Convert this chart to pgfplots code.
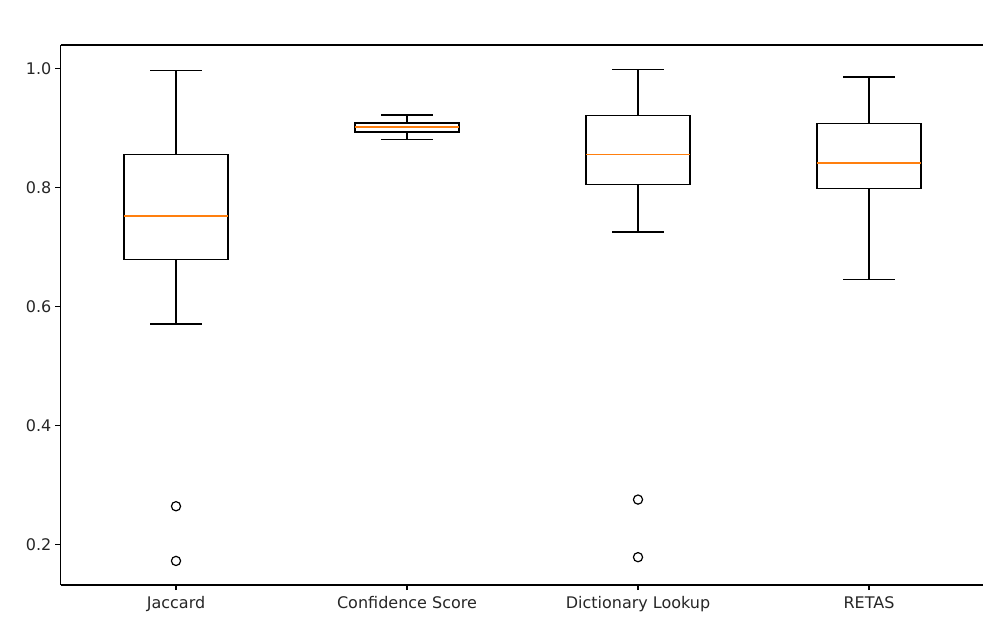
\documentclass[border=0pt]{standalone}
\usepackage{fontspec}
\setmainfont{DejaVu Sans}
\usepackage{pgfplots}
\pgfplotsset{compat=1.18}
\usepgfplotslibrary{statistics}
\definecolor{mplorange}{HTML}{FF7F0E}
\begin{document}
\begin{tikzpicture}
\useasboundingbox (0bp,0bp) rectangle (993bp,618bp);
\begin{axis}[
  at={(60.5bp,33bp)}, anchor=south west,
  scale only axis, width=922.5bp, height=540bp,
  xmin=0.5, xmax=4.4935, ymin=0.1315, ymax=1.0400,
  axis x line=box, axis y line=left,
  y axis line style={-}, x axis line style={-},
  axis line style={black, line width=1.2bp},
  xtick pos=lower, ytick pos=left,
  tick align=outside, major tick length=5.2bp,
  tick style={black, line width=1.2bp},
  xtick={1,2,3,4},
  xticklabels={Jaccard,Confidence Score,Dictionary Lookup,RETAS},
  ytick={0.2,0.4,0.6,0.8,1.0},
  yticklabel style={/pgf/number format/fixed, /pgf/number format/fixed zerofill, /pgf/number format/precision=1},
  /pgf/number format/assume math mode=true,
  tick label style={font=\fontsize{16bp}{19bp}\selectfont, text=black!85},
  xticklabel style={yshift=-2.5bp},
  yticklabel style={xshift=-0.5bp},
  boxplot/draw direction=y,
  boxplot/every box/.style={draw=black, line width=1.5bp},
  boxplot/every whisker/.style={draw=black, line width=1.5bp},
  boxplot/every median/.style={draw=mplorange, line width=1.8bp},
  clip=false,
]
\addplot[black, mark=o, mark size=4.6bp, mark options={line width=1.2bp, draw=black},
  boxplot prepared={draw position=1, lower whisker=0.5705, lower quartile=0.679,
    median=0.7525, upper quartile=0.856, upper whisker=0.997,
    box extend=0.45, whisker extend=0.225}]
  table[row sep=\\, y index=0] {0.264\\ 0.172\\};
\addplot[black,
  boxplot prepared={draw position=2, lower whisker=0.8807, lower quartile=0.894,
    median=0.9024, upper quartile=0.9086, upper whisker=0.922,
    box extend=0.45, whisker extend=0.225}]
  coordinates {};
\addplot[black, mark=o, mark size=4.6bp, mark options={line width=1.2bp, draw=black},
  boxplot prepared={draw position=3, lower whisker=0.7253, lower quartile=0.8055,
    median=0.8556, upper quartile=0.9215, upper whisker=0.999,
    box extend=0.45, whisker extend=0.225}]
  table[row sep=\\, y index=0] {0.2752\\ 0.1783\\};
\addplot[black,
  boxplot prepared={draw position=4, lower whisker=0.6457, lower quartile=0.7984,
    median=0.8418, upper quartile=0.908, upper whisker=0.986,
    box extend=0.45, whisker extend=0.225}]
  coordinates {};
\end{axis}
\end{tikzpicture}
\end{document}
